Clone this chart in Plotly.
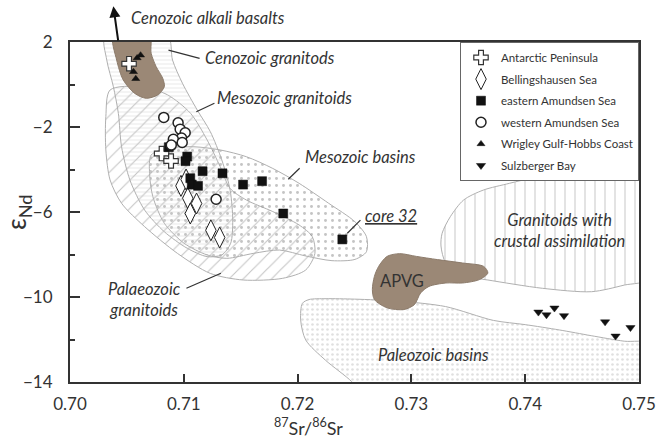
import plotly.graph_objects as go

# ---------------- sample data (87Sr/86Sr, eps Nd) ----------------
ap_x = [0.70519, 0.70805, 0.70888]
ap_y = [0.98, -3.25, -3.60]

bs_x = [0.70975, 0.71020, 0.71035, 0.71112, 0.71057, 0.71238, 0.71315]
bs_y = [-4.77, -4.47, -5.35, -5.60, -6.07, -6.86, -7.20]

ea_x = [0.70868, 0.71030, 0.71015, 0.71057, 0.71070, 0.71125, 0.71165,
        0.71340, 0.71521, 0.71688, 0.71874, 0.72393]
ea_y = [-2.95, -3.39, -3.61, -4.41, -4.71, -4.77, -4.08,
        -4.18, -4.71, -4.55, -6.07, -7.29]

wa_x = [0.70824, 0.70950, 0.70968, 0.71012, 0.70980, 0.70908, 0.70890, 0.70986, 0.71284]
wa_y = [-1.55, -1.80, -2.10, -2.27, -2.52, -2.58, -2.85, -2.73, -5.40]

wg_x = [0.70590, 0.70620, 0.70558, 0.70578]
wg_y = [1.25, 1.38, 0.60, 0.27]

sb_x = [0.74116, 0.74187, 0.74257, 0.74341, 0.74702, 0.74794, 0.74925]
sb_y = [-10.71, -10.84, -10.52, -10.88, -11.17, -11.84, -11.44]

# ---------------- reference fields (outline vertices) ----------------
cab_x = [0.70381, 0.70410, 0.70468, 0.70569, 0.70670, 0.70771, 0.70829, 0.70815, 0.70757, 0.70713, 0.70699, 0.70381]
cab_y = [2.30, 1.15, 0.21, -0.42, -0.65, -0.49, -0.10, 0.29, 0.84, 1.47, 2.30, 2.30]

mgr_x = [0.70309, 0.70858, 0.70901, 0.70988, 0.71118, 0.71233, 0.71334, 0.71407, 0.71430,
         0.71412, 0.71334, 0.71205, 0.71031, 0.70829, 0.70656, 0.70526, 0.70453, 0.70425,
         0.70381, 0.70323, 0.70309]
mgr_y = [2.30, 2.30, 1.15, 0.06, -1.20, -2.22, -3.55, -4.97, -6.38,
         -7.47, -8.02, -8.10, -7.71, -6.93, -5.91, -4.49, -2.93, -1.36,
         -0.10, 1.15, 2.30]

pgr_x = [0.70352, 0.70315, 0.70315, 0.70352, 0.70453, 0.70656, 0.70945, 0.71233, 0.71522,
         0.71869, 0.72071, 0.72152, 0.72129, 0.72013, 0.71782, 0.71551, 0.71407, 0.71320,
         0.71205, 0.71060, 0.70858, 0.70627, 0.70352]
pgr_y = [-0.26, -1.51, -3.08, -4.49, -5.59, -6.69, -7.95, -8.89, -9.20,
         -9.12, -8.73, -7.95, -7.16, -6.61, -5.98, -5.44, -4.89, -3.87,
         -2.61, -1.36, -0.49, -0.10, -0.26]

mba_x = [0.70713, 0.70858, 0.71089, 0.71320, 0.71551, 0.71782, 0.72013, 0.72273, 0.72504,
         0.72605, 0.72605, 0.72504, 0.72302, 0.72071, 0.71840, 0.71609, 0.71378, 0.71205,
         0.71002, 0.70829, 0.70728, 0.70699, 0.70713]
mba_y = [-3.32, -3.00, -2.93, -3.08, -3.40, -3.95, -4.65, -5.59, -6.46,
         -7.16, -7.87, -8.23, -8.29, -8.07, -7.79, -7.95, -8.18, -8.02,
         -7.47, -6.53, -5.28, -4.18, -3.32]

gca_x = [0.7510, 0.7450, 0.7409, 0.73862, 0.73631, 0.73458, 0.73342, 0.73270, 0.73260,
         0.73303, 0.73487, 0.73672, 0.74151, 0.74584, 0.74870, 0.7510, 0.7510]
gca_y = [-3.0, -3.6, -4.34, -4.65, -4.97, -5.44, -6.22, -7.0, -7.6,
         -8.40, -9.03, -9.20, -9.59, -9.75, -9.44, -9.1, -3.0]

apvg_x = [0.72675, 0.72657, 0.72675, 0.72786, 0.72934, 0.73026, 0.73081, 0.73155, 0.73303,
          0.73450, 0.73598, 0.73672, 0.73635, 0.73450, 0.73229, 0.73044, 0.72897, 0.72786,
          0.72712, 0.72675]
apvg_y = [-9.03, -9.65, -10.12, -10.51, -10.59, -10.36, -9.81, -9.50, -9.34,
          -9.34, -9.18, -8.87, -8.56, -8.40, -8.24, -8.09, -7.96, -8.09,
          -8.56, -9.03]

pba_x = [0.72042, 0.72100, 0.72250, 0.72500, 0.72900, 0.73300, 0.73720, 0.74000, 0.74300,
         0.74580, 0.74870, 0.75100, 0.75100, 0.72550, 0.72475, 0.72244, 0.72071, 0.72027, 0.72042]
pba_y = [-10.30, -10.12, -10.08, -10.10, -10.20, -10.45, -11.10, -11.30, -11.55,
         -11.82, -12.08, -12.20, -14.50, -14.50, -13.98, -12.97, -12.02, -11.08, -10.30]

x_ticks = [0.70, 0.71, 0.72, 0.73, 0.74, 0.75]
x_tick_text = ["0.70", "0.71", "0.72", "0.73", "0.74", "0.75"]
y_ticks = [2, -2, -6, -10, -14]
y_minor = [0, -4, -8, -12]

FONT = "Lato"
OUT = "#b0b0b0"
BROWN = "#9b8876"

fig = go.Figure()


def field(xs, ys, shape, size, sol, fg, line_col=OUT, name=""):
    fig.add_trace(go.Scatter(
        x=xs, y=ys, mode="lines", fill="toself",
        fillcolor="rgba(255,255,255,0)",
        fillpattern=dict(shape=shape, size=size, solidity=sol, fgcolor=fg,
                         bgcolor="rgba(255,255,255,0)"),
        line=dict(color=line_col, width=1, shape="spline", smoothing=0.8),
        hoverinfo="skip", showlegend=False, name=name))


def solid(xs, ys, col, name=""):
    fig.add_trace(go.Scatter(
        x=xs, y=ys, mode="lines", fill="toself", fillcolor=col,
        line=dict(color="#8c7b6b", width=1, shape="spline", smoothing=0.8),
        hoverinfo="skip", showlegend=False, name=name))


field(pba_x, pba_y, ".", 5, 0.22, "#c2c2c2", name="Paleozoic basins")
field(gca_x, gca_y, "|", 10, 0.1, "#8f8f8f", name="Granitoids with crustal assimilation")
solid(apvg_x, apvg_y, BROWN, name="APVG")
field(pgr_x, pgr_y, "/", 10, 0.11, "#8a8a8a", name="Palaeozoic granitoids")
field(mba_x, mba_y, ".", 7, 0.14, "#8a8a8a", name="Mesozoic basins")
field(mgr_x, mgr_y, "-", 4, 0.2, "#c6c6c6", name="Mesozoic granitoids")
solid(cab_x, cab_y, BROWN, name="Cenozoic alkali basalts")

# ---------------- samples ----------------
def pts(xs, ys, name, symbol, size, color, lc="#222", lw=1.0, grp=""):
    fig.add_trace(go.Scatter(
        x=xs, y=ys, mode="markers", name=name, legendgroup=grp,
        marker=dict(symbol=symbol, size=size, color=color,
                    line=dict(color=lc, width=lw))))


pts(ap_x, ap_y, "Antarctic Peninsula", "cross", 12, "white", "#333", 1.2, "g1")
pts(bs_x, bs_y, "Bellingshausen Sea", "diamond-tall", 15, "white", "#222", 1.0, "g2")
pts(ea_x, ea_y, "eastern Amundsen Sea", "square", 9, "#111", "#111", 0.5, "g3")
pts(wa_x, wa_y, "western Amundsen Sea", "circle", 10, "white", "#222", 1.5, "g4")
pts(wg_x, wg_y, "Wrigley Gulf-Hobbs Coast", "triangle-up", 7, "#111", "#111", 0.5, "g5")
pts(sb_x, sb_y, "Sulzberger Bay", "triangle-down", 8, "#111", "#111", 0.5, "g6")

# ---------------- labels ----------------
lab = dict(family=FONT, size=16.5, color="#333")
ann = []


def label(x, y, text, xanchor="left", yref="y", italic=True):
    ann.append(dict(x=x, y=y, xref="x", yref=yref, text=("<i>%s</i>" % text) if italic else text,
                    showarrow=False, xanchor=xanchor, yanchor="middle", font=lab,
                    align="center"))


label(0.70519, 1.0706, "Cenozoic alkali basalts", yref="paper")
label(0.71168, 1.25, "Cenozoic granitods")
label(0.71272, -0.64, "Mesozoic granitoids")
label(0.72050, -3.41, "Mesozoic basins")
label(0.72578, -6.19, "<u>core 32</u>")
label(0.70657, -10.14, "Palaeozoic<br>granitoids", xanchor="center")
label(0.74299, -6.89, "Granitoids with<br>crustal assimilation", xanchor="center")
label(0.72915, -9.25, "APVG", xanchor="center", italic=False)
label(0.73192, -12.73, "Paleozoic basins", xanchor="center")

# arrow to Cenozoic alkali basalts
ann.append(dict(x=0.70381, y=1.105, xref="x", yref="y domain",
                ax=0.70425, ay=1.0, axref="x", ayref="y domain",
                showarrow=True, arrowhead=2, arrowsize=1.1, arrowwidth=2,
                arrowcolor="#111", text=""))

# axis titles
ann.append(dict(x=-0.093, y=0.5, xref="paper", yref="paper", textangle=-90,
                xanchor="center", yanchor="middle",
                text="ε<sub>Nd</sub>", showarrow=False,
                font=dict(family=FONT, size=26, color="#333")))
ann.append(dict(x=0.42, y=-0.132, xref="paper", yref="paper",
                text="<sup>87</sup>Sr/<sup>86</sup>Sr", showarrow=False,
                xanchor="center", yanchor="middle",
                font=dict(family=FONT, size=18, color="#333")))

# leader lines
leaders = [
    ((0.71139, 1.23), (0.70865, 1.62)),
    ((0.71269, -0.885), (0.71110, -1.28)),
    ((0.72018, -3.94), (0.71918, -4.46)),
    ((0.72552, -6.38), (0.72437, -7.00)),
    ((0.71023, -9.59), (0.71326, -8.88)),
]
shapes = [dict(type="line", xref="x", yref="y", x0=a[0], y0=a[1], x1=b[0], y1=b[1],
               line=dict(color="#333", width=1.2)) for a, b in leaders]

fig.update_layout(
    width=668, height=446,
    margin=dict(l=70, r=20, t=42, b=64),
    paper_bgcolor="white", plot_bgcolor="white",
    font=dict(family=FONT, color="#333"),
    annotations=ann, shapes=shapes,
    legend=dict(x=1, y=1, xanchor="right", yanchor="top", bgcolor="white",
                bordercolor="#666", borderwidth=1, tracegroupgap=2.6,
                font=dict(family=FONT, size=11.5, color="#333")),
    xaxis=dict(range=[0.70, 0.75], tickvals=x_ticks, ticktext=x_tick_text,
               ticks="inside", ticklen=8, tickwidth=1.5, tickcolor="#333",
               showline=True, mirror=True, linecolor="#333", linewidth=2,
               showgrid=False, zeroline=False, ticklabelstandoff=6,
               tickfont=dict(family=FONT, size=17, color="#333")),
    yaxis=dict(range=[-14, 2], tickvals=y_ticks, ticks="inside", ticklen=10,
               tickwidth=1.5, tickcolor="#333",
               minor=dict(tickvals=y_minor, ticks="inside", ticklen=5, tickcolor="#333", tickwidth=1.5),
               showline=True, mirror=True, linecolor="#333", linewidth=2,
               showgrid=False, zeroline=False, ticklabelstandoff=12,
               tickfont=dict(family=FONT, size=17, color="#333")),
)

fig.write_html("out.html")
